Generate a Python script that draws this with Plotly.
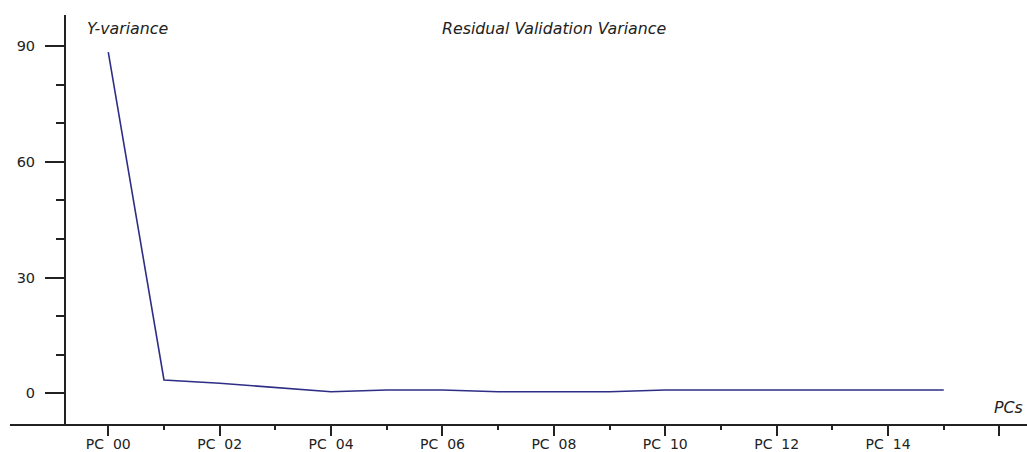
import plotly.graph_objects as go

# Data
pcs = list(range(16))
y_variance = [88.5, 3.45, 2.6, 1.56, 0.41, 0.86, 0.86, 0.41, 0.41, 0.41,
              0.86, 0.86, 0.86, 0.86, 0.86, 0.86]
x_tick_vals = [0, 2, 4, 6, 8, 10, 12, 14, 16]
x_tick_text = ["PC\u00a0\u00a000", "PC\u00a0\u00a002", "PC\u00a0\u00a004", "PC\u00a0\u00a006",
               "PC\u00a0\u00a008", "PC\u00a0\u00a010", "PC\u00a0\u00a012", "PC\u00a0\u00a014", ""]
x_minor_vals = [1, 3, 5, 7, 9, 11, 13, 15]
y_tick_vals = [0, 30, 60, 90]
y_minor_vals = [10, 20, 40, 50, 70, 80]

FONT = "DejaVu Sans"
AXIS_COLOR = "#222222"

fig = go.Figure()
fig.add_trace(go.Scatter(
    x=pcs, y=y_variance, mode="lines",
    line=dict(color="#2e2e86", width=1.6),
    hoverinfo="x+y", showlegend=False,
))

fig.update_layout(
    width=1027, height=452,
    margin=dict(l=66, r=0, t=15, b=27, pad=0, autoexpand=False),
    paper_bgcolor="white", plot_bgcolor="white",
    font=dict(family=FONT, size=14, color="#222222"),
    showlegend=False,
    xaxis=dict(
        range=[-0.759, 16.494],
        automargin=False,
        showgrid=False, zeroline=False,
        showline=False,
        ticks="outside", ticklen=10, tickwidth=1.5, tickcolor=AXIS_COLOR,
        tickvals=x_tick_vals, ticktext=x_tick_text,
        tickfont=dict(family=FONT, size=14, color="#222222"),
        ticklabelstandoff=-4,
        minor=dict(tickvals=x_minor_vals, ticks="outside", ticklen=4,
                   tickwidth=1.5, tickcolor=AXIS_COLOR, showgrid=False),
        fixedrange=True,
    ),
    yaxis=dict(
        range=[-8.22, 98.1],
        automargin=False,
        showgrid=False, zeroline=False,
        showline=True, linecolor=AXIS_COLOR, linewidth=2,
        ticks="outside", ticklen=19, tickwidth=1.5, tickcolor=AXIS_COLOR,
        tickvals=y_tick_vals,
        tickfont=dict(family=FONT, size=14.5, color="#222222"),
        ticklabelstandoff=7,
        minor=dict(tickvals=y_minor_vals, ticks="outside", ticklen=8,
                   tickwidth=1.5, tickcolor=AXIS_COLOR, showgrid=False),
        fixedrange=True,
    ),
)

# x-axis baseline extending left of the y-axis
fig.add_shape(type="line", xref="paper", yref="paper",
              x0=-0.0583, x1=1.0, y0=0, y1=0,
              line=dict(color=AXIS_COLOR, width=2))

title_font = dict(family=FONT, size=15.8, color="#222222", style="italic")
fig.add_annotation(text="Y-variance", xref="paper", yref="paper",
                   x=0.0198, y=0.966, xanchor="left", yanchor="middle",
                   showarrow=False, font=title_font)
fig.add_annotation(text="Residual Validation Variance", xref="paper", yref="paper",
                   x=0.5082, y=0.966, xanchor="center", yanchor="middle",
                   showarrow=False, font=title_font)
fig.add_annotation(text="PCs", xref="paper", yref="paper",
                   x=0.998, y=0.043, xanchor="right", yanchor="middle",
                   showarrow=False, font=title_font)

fig.write_html("out.html", config=dict(displayModeBar=False))
